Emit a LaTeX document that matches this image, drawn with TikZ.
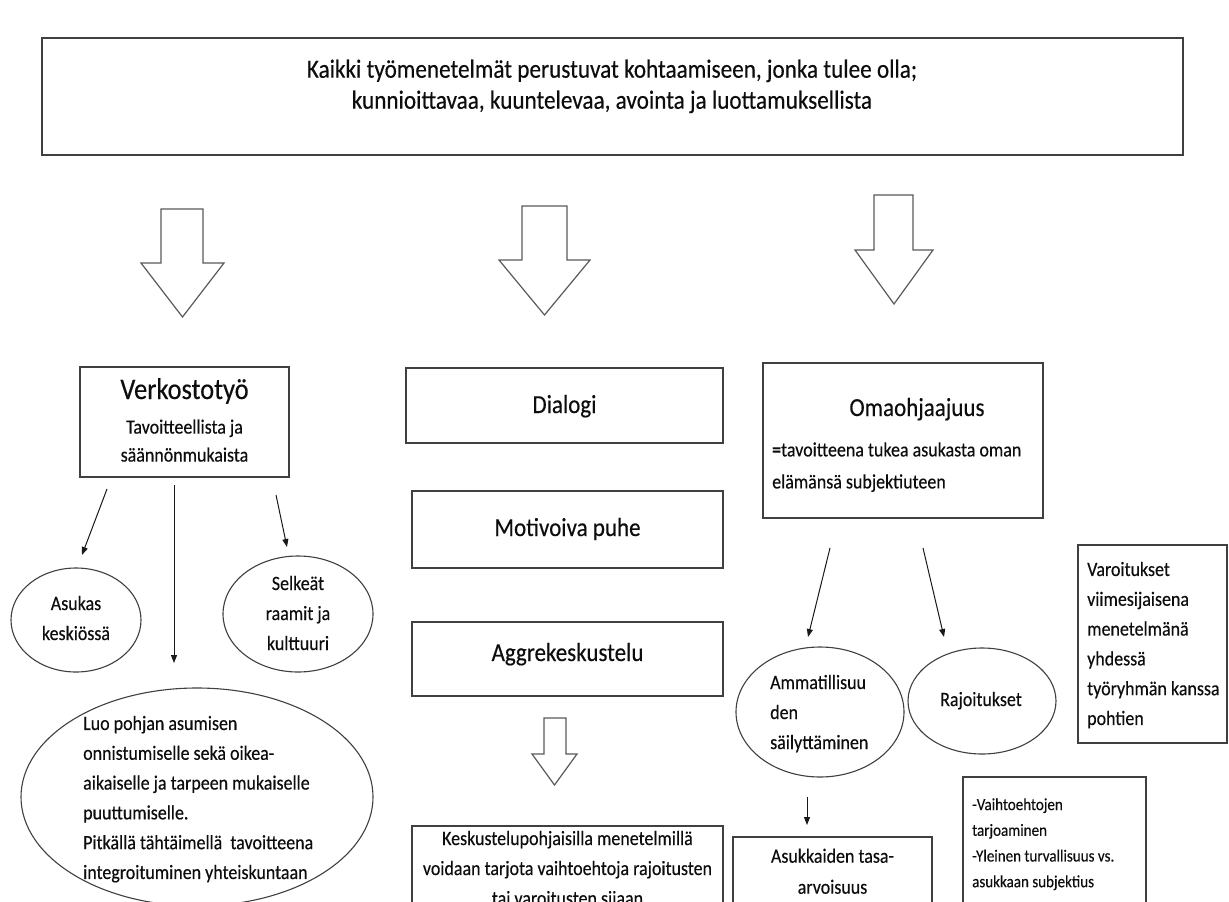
\documentclass[tikz,border=0pt]{standalone}
\usepackage{fontspec}
\usepackage{graphicx}
\setmainfont{Carlito}[FakeBold=0.35]
\usetikzlibrary{arrows.meta,shapes.geometric}
\definecolor{lc}{HTML}{404040}
\definecolor{ac}{HTML}{5A5A5A}
\newcommand\sq[2]{\scalebox{0.885}[1]{\begin{tabular}{@{}#1@{}}#2\end{tabular}}}
\begin{document}
\begin{tikzpicture}[x=1pt,y=-1pt,
  box/.style={draw=lc,line width=1.3pt,fill=white,inner sep=0pt,rectangle},
  oval/.style={draw=lc,line width=1.1pt,ellipse,inner sep=0pt},
  txt/.style={inner sep=0pt,text=black!95,font=\fontsize{20.3}{30}\selectfont},
  head/.style={inner sep=0pt,text=black!95,font=\fontsize{26}{30}\selectfont},
  arr/.style={line width=1pt,draw=black!90,-{Triangle[length=8pt,width=6pt]}},
  blockarr/.style={draw=ac,line width=1.2pt,fill=white,line join=miter}]
\useasboundingbox (0,0) rectangle (1229,902);
\clip (0,0) rectangle (1229,902);
\fill[white] (0,0) rectangle (1229,902);

% top box
\node[box,minimum width=1141pt,minimum height=117pt] (top) at (612.5,96.5) {};
\node[txt,font=\fontsize{26.2}{31}\selectfont] (toptxt) at (612,87)
  {\sq{c}{Kaikki työmenetelmät perustuvat kohtaamiseen, jonka tulee olla;\\kunnioittavaa, kuuntelevaa, avointa ja luottamuksellista}};

% block arrows
\draw[blockarr] (161,209) -- (203,209) -- (203,263) -- (224,263) -- (182.5,317) -- (141,263) -- (161,263) -- cycle;
\draw[blockarr] (522,206) -- (567,206) -- (567,260) -- (590,260) -- (544.5,315) -- (499,260) -- (522,260) -- cycle;
\draw[blockarr] (874,195) -- (913,195) -- (913,250) -- (933,250) -- (894,304) -- (855,250) -- (874,250) -- cycle;
\draw[blockarr] (544,718) -- (566,718) -- (566,754) -- (577,754) -- (554.5,785) -- (532,754) -- (544,754) -- cycle;

% left column
\node[box,minimum width=209pt,minimum height=110pt] (verk) at (184.5,422) {};
\node[head,font=\fontsize{29.9}{30}\selectfont] (verkt) at (184.5,393) {\sq{c}{Verkostotyö}};
\node[txt,font=\fontsize{20.3}{28}\selectfont] (verks) at (184.5,442) {\sq{c}{Tavoitteellista ja\\säännönmukaista}};

\node[oval,minimum width=130pt,minimum height=104pt] (asukas) at (76,620) {};
\node[txt] (asukast) at (76,619) {\sq{c}{Asukas\\keskiössä}};
\node[oval,minimum width=150pt,minimum height=116pt] (selkeat) at (298,614) {};
\node[txt] (selkeatt) at (298,614) {\sq{c}{Selkeät\\raamit ja\\kulttuuri}};
\node[oval,minimum width=352pt,minimum height=218pt] (luo) at (197,797) {};
\node[txt,anchor=west,font=\fontsize{20.3}{29.8}\selectfont] (luot) at (83,798.5)
  {\sq{l}{Luo pohjan asumisen\\onnistumiselle sekä oikea-\\aikaiselle ja tarpeen mukaiselle\\puuttumiselle.\\Pitkällä tähtäimellä\ \ tavoitteena\\integroituminen yhteiskuntaan}};

\coordinate (v1s) at (107,489); \coordinate (v1e) at (82,555);
\coordinate (v2s) at (174,485); \coordinate (v2e) at (174,663);
\coordinate (v3s) at (276,495); \coordinate (v3e) at (287,547);
\draw[arr] (v1s) -- (v1e);
\draw[arr] (v2s) -- (v2e);
\draw[arr] (v3s) -- (v3e);

% middle column
\node[box,minimum width=317pt,minimum height=75pt] (dialogi) at (564.5,405.5) {};
\node[head] (dialogit) at (564.5,407) {\sq{c}{Dialogi}};
\node[box,minimum width=311pt,minimum height=77pt] (motiv) at (567.5,529.5) {};
\node[head] (motivt) at (567.5,530) {\sq{c}{Motivoiva puhe}};
\node[box,minimum width=311pt,minimum height=74pt] (aggre) at (567.5,659) {};
\node[head] (aggret) at (567.5,655) {\sq{c}{Aggrekeskustelu}};
\node[box,minimum width=311pt,minimum height=134pt] (kesk) at (567.5,893) {};
\node[txt] (keskt) at (567.5,869) {\sq{c}{Keskustelupohjaisilla menetelmillä\\voidaan tarjota vaihtoehtoja rajoitusten\\tai varoitusten sijaan}};

% right column
\node[box,minimum width=280pt,minimum height=155pt] (omaoh) at (903,440.5) {};
\node[head] (omaoht) at (917,410) {\sq{c}{Omaohjaajuus}};
\node[txt,anchor=west,font=\fontsize{20.3}{32}\selectfont] (omaohs) at (772,466)
  {\sq{l}{\textbf{=}tavoitteena tukea asukasta oman\\elämänsä subjektiuteen}};

\node[oval,minimum width=168pt,minimum height=130pt] (ammat) at (820,712) {};
\node[txt,anchor=west] (ammatt) at (770,713) {\sq{l}{Ammatillisuu\\den\\säilyttäminen}};
\node[oval,minimum width=148pt,minimum height=106pt] (rajo) at (982,701) {};
\node[txt] (rajot) at (981,700) {\sq{c}{Rajoitukset}};

\coordinate (o1s) at (830,548); \coordinate (o1e) at (808,637);
\coordinate (o2s) at (923,548); \coordinate (o2e) at (944,637);
\coordinate (a1s) at (807,797); \coordinate (a1e) at (807,825);
\draw[arr] (o1s) -- (o1e);
\draw[arr] (o2s) -- (o2e);
\draw[arr] (a1s) -- (a1e);

\node[box,minimum width=199pt,minimum height=123pt] (asukk) at (832.5,898.5) {};
\node[txt,font=\fontsize{20.3}{31}\selectfont] (asukkt) at (832.5,872) {\sq{c}{Asukkaiden tasa-\\arvoisuus}};

\node[box,minimum width=149pt,minimum height=198pt] (varo) at (1152.5,644) {};
\node[txt,anchor=west,font=\fontsize{20.3}{29.8}\selectfont] (varot) at (1087,644.5)
  {\sq{l}{Varoitukset\\viimesijaisena\\menetelmänä\\yhdessä\\työryhmän kanssa\\pohtien}};

\node[box,minimum width=183pt,minimum height=183pt] (bullets) at (1054.5,868.5) {};
\node[txt,anchor=west,font=\fontsize{17}{25.7}\selectfont] (bulletst) at (972,843.5)
  {\sq{l}{-Vaihtoehtojen\\tarjoaminen\\-Yleinen turvallisuus vs.\\asukkaan subjektius}};
\end{tikzpicture}
\end{document}
